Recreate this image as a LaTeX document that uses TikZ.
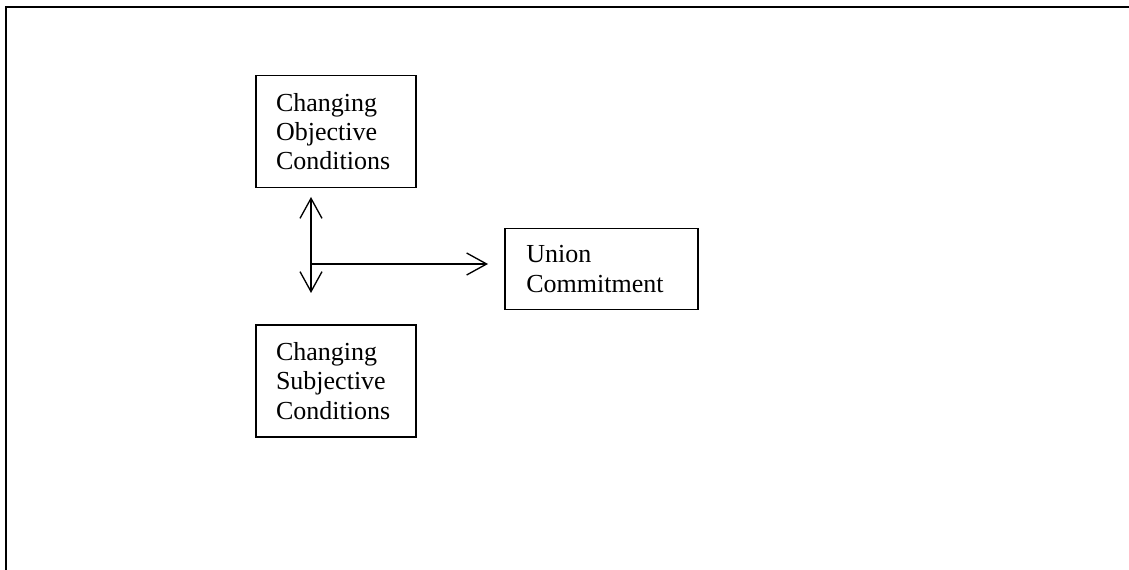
\documentclass[tikz,border=0pt]{standalone}
\usepackage{fontspec}
\setmainfont{Liberation Serif}
\usetikzlibrary{arrows.meta,calc}
\begin{document}
\begin{tikzpicture}[x=0.75pt,y=-0.75pt,
  boxnode/.style={draw,line width=1.1pt,align=left,font=\fontsize{19.5}{21.9}\selectfont,inner ysep=0pt},
  condbox/.style={boxnode,minimum width=120pt,minimum height=84pt,inner xsep=15pt,text width=90pt},
  unionbox/.style={boxnode,minimum width=144.75pt,minimum height=60.75pt,inner xsep=16pt,text width=112.75pt},
  arr/.style={line width=1pt,-{Straight Barb[length=15pt,width=16.5pt,line width=1pt]}},
  dblarr/.style={line width=1pt,{Straight Barb[length=15pt,width=16.5pt,line width=1pt]}-{Straight Barb[length=15pt,width=16.5pt,line width=1pt]}},
  frame/.style={line width=2pt}]
\useasboundingbox (0,0) rectangle (1129,570);
\coordinate (ftop) at (1129,7);
\coordinate (fcorner) at (6,7);
\coordinate (fbottom) at (6,570);
\draw[frame] (ftop) -- (fcorner) -- (fbottom);
\node[condbox] (obj) at (336,131.5) {Changing\\Objective\\Conditions};
\node[condbox] (subj) at (336,381) {Changing\\Subjective\\Conditions};
\node[unionbox] (union) at (601.5,269) {Union\\Commitment};
\coordinate (up) at (311,197);
\coordinate (down) at (311,293);
\coordinate (junc) at (311,264);
\coordinate (tip) at (488,264);
\draw[dblarr] (up) -- (down);
\draw[arr] (junc) -- (tip);
\end{tikzpicture}
\end{document}
